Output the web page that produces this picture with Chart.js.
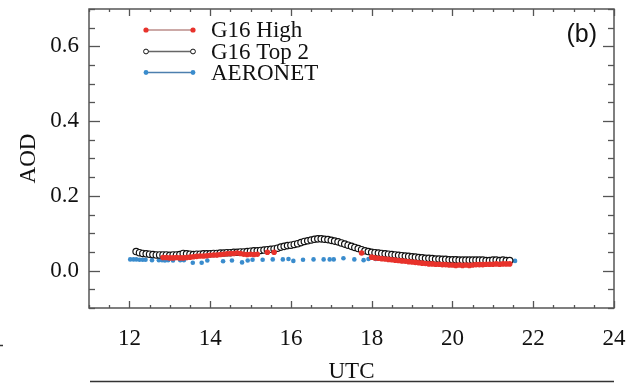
<!DOCTYPE html>
<html>
<head>
<meta charset="utf-8">
<title>AOD (b)</title>
<script src="https://cdn.jsdelivr.net/npm/chart.js@4.4.0/dist/chart.umd.min.js"></script>
<style>
  html, body { margin: 0; padding: 0; background: #fff; }
  #wrap { width: 636px; height: 388px; position: relative; }
</style>
</head>
<body>
<div id="wrap"><canvas id="aod"></canvas></div>
<script>
// GOES-16 retrievals, 5 min scans (UTC)
const g16Times = [
  "12:10","12:15","12:20","12:25","12:30","12:35","12:40","12:45","12:50","12:55",
  "13:00","13:05","13:10","13:15","13:20","13:25","13:30","13:35","13:40","13:45","13:50","13:55",
  "14:00","14:05","14:10","14:15","14:20","14:25","14:30","14:35","14:40","14:45","14:50","14:55",
  "15:00","15:05","15:10","15:15","15:20","15:25","15:30","15:35","15:40","15:45","15:50","15:55",
  "16:00","16:05","16:10","16:15","16:20","16:25","16:30","16:35","16:40","16:45","16:50","16:55",
  "17:00","17:05","17:10","17:15","17:20","17:25","17:30","17:35","17:40","17:45","17:50","17:55",
  "18:00","18:05","18:10","18:15","18:20","18:25","18:30","18:35","18:40","18:45","18:50","18:55",
  "19:00","19:05","19:10","19:15","19:20","19:25","19:30","19:35","19:40","19:45","19:50","19:55",
  "20:00","20:05","20:10","20:15","20:20","20:25","20:30","20:35","20:40","20:45","20:50","20:55",
  "21:00","21:05","21:10","21:15","21:20","21:25"
];
const g16High = [
  null,null,null,null,null,null,null,null,0.035,0.035,
  0.034,0.034,0.035,0.034,0.034,0.035,0.036,0.037,0.038,0.039,0.039,0.040,
  0.041,0.042,0.042,0.043,0.044,0.045,0.046,0.046,0.047,0.046,0.044,0.043,
  0.044,0.043,0.044,null,null,0.049,null,0.049,null,null,null,null,
  null,null,null,null,null,null,null,null,null,null,null,null,
  null,null,null,null,null,null,null,null,null,0.047,null,null,
  0.036,0.034,0.033,0.032,0.031,0.030,0.029,0.028,0.027,0.026,0.025,0.024,
  0.023,0.022,0.021,0.020,0.019,0.018,0.018,0.017,0.017,0.016,0.016,0.015,
  0.015,0.014,0.015,0.014,0.015,0.014,0.015,0.016,0.016,0.016,0.017,0.017,
  0.017,0.018,0.017,0.018,0.018,0.018
];
const g16Top2 = [
  0.051,0.048,0.046,0.045,0.044,0.043,0.042,0.042,0.042,0.042,
  0.041,0.042,0.042,0.043,0.046,0.045,0.044,0.043,0.044,0.044,0.045,0.045,
  0.045,0.046,0.046,0.047,0.047,0.048,0.048,0.049,0.049,0.050,0.050,0.051,
  0.052,0.053,0.053,0.054,0.055,0.056,0.057,0.058,0.060,0.063,0.065,0.067,
  0.068,0.070,0.072,0.075,0.078,0.080,0.082,0.084,0.085,0.085,0.084,0.083,
  0.081,0.079,0.077,0.074,0.071,0.068,0.065,0.062,0.059,0.056,0.053,0.051,
  0.049,0.048,0.047,0.046,0.045,0.044,0.043,0.042,0.041,0.040,0.039,0.038,
  0.037,0.036,0.035,0.034,0.033,0.033,0.032,0.031,0.031,0.030,0.030,0.029,
  0.029,0.029,0.028,0.028,0.028,0.028,0.028,0.028,0.028,0.028,0.027,0.027,
  0.028,0.028,0.027,0.028,0.027,0.027
];

// AERONET sun photometer (decimal hours UTC)
const aeronetTimes = [
  12.02,12.10,12.17,12.25,12.33,12.40,12.56,12.73,12.81,12.88,12.96,13.08,13.26,
  13.35,13.57,13.79,13.93,14.32,14.54,14.79,14.93,15.05,15.30,15.55,15.80,15.94,
  16.06,16.30,16.56,16.81,16.96,17.06,17.30,17.57,17.80,17.92,18.10,18.35,18.60,
  18.85,19.10,19.35,19.60,19.85,20.10,20.35,20.60,20.85,21.10,21.35,21.55
];
const aeronetAod = [
  0.030,0.030,0.030,0.029,0.029,0.029,0.028,0.028,0.028,0.027,0.028,0.027,0.028,
  0.028,0.021,0.021,0.027,0.025,0.027,0.022,0.027,0.029,0.029,0.030,0.030,0.031,
  0.026,0.029,0.030,0.030,0.030,0.030,0.033,0.030,0.028,0.031,0.031,0.031,0.030,
  0.030,0.030,0.029,0.029,0.031,0.029,0.028,0.028,0.028,0.027,0.027,0.026
];

const xTicks = [12, 14, 16, 18, 20, 22, 24];
const yTicks = [0.0, 0.2, 0.4, 0.6];

const SERIF = '"Liberation Serif", "Times New Roman", serif';
const INK = '#111';
const FRAME = '#555';

function hours(hhmm) {
  const [h, m] = hhmm.split(':').map(Number);
  return h + m / 60;
}
function pairs(times, vals) {
  return vals.map((v, i) => ({ x: typeof times[i] === 'string' ? hours(times[i]) : times[i], y: v }));
}

// box with inward ticks on all four sides, legend, panel letter
const framePlugin = {
  id: 'frame',
  afterDatasetsDraw(chart) {
    const { ctx, chartArea: a, scales: { x, y } } = chart;
    ctx.save();
    ctx.strokeStyle = FRAME;
    ctx.lineWidth = 1.3;

    const tick = (x1, y1, x2, y2) => {
      ctx.beginPath(); ctx.moveTo(x1, y1); ctx.lineTo(x2, y2); ctx.stroke();
    };
    for (let v = x.min; v <= x.max + 1e-9; v += 0.5) {
      const px = Math.round(x.getPixelForValue(v)) + 0.5;
      const len = Math.abs(v % 2) < 1e-9 ? 7 : 3;
      tick(px, a.bottom, px, a.bottom - len);
      tick(px, a.top, px, a.top + len);
    }
    for (let k = -2; k <= 14; k++) {
      const v = k * 0.05;
      const py = Math.round(y.getPixelForValue(v)) + 0.5;
      const len = k % 4 === 0 ? 11 : 6;
      tick(a.left, py, a.left + len, py);
      tick(a.right, py, a.right - len, py);
    }
    ctx.lineWidth = 1.5;
    ctx.strokeRect(a.left, a.top, a.right - a.left, a.bottom - a.top);

    // legend: short line with a marker at each end
    const rows = [30, 51.5, 72.5];
    chart.data.datasets.forEach((ds, i) => {
      const yy = rows[i];
      ctx.strokeStyle = ds.legendLine;
      ctx.lineWidth = 1.4;
      tick(146, yy, 193, yy);
      [146, 193].forEach(mx => {
        ctx.beginPath();
        ctx.arc(mx, yy, ds.legendRadius, 0, Math.PI * 2);
        ctx.fillStyle = ds.backgroundColor;
        ctx.fill();
        if (ds.borderWidth) {
          ctx.lineWidth = 1;
          ctx.strokeStyle = ds.borderColor;
          ctx.stroke();
        }
      });
      ctx.fillStyle = INK;
      ctx.font = '23px ' + SERIF;
      ctx.textBaseline = 'middle';
      ctx.textAlign = 'left';
      ctx.fillText(ds.label, 211, yy + 1);
    });

    ctx.font = '25px "Liberation Sans", Arial, sans-serif';
    ctx.textAlign = 'right';
    ctx.fillText('(b)', 597, 35);

    // rule under the axis title and a stub at the left edge
    ctx.strokeStyle = '#333';
    ctx.lineWidth = 1.5;
    tick(a.left + 1, 381.5, a.right, 381.5);
    tick(0, 345.5, 3, 345.5);
    ctx.restore();
  }
};

new Chart(document.getElementById('aod'), {
  type: 'scatter',
  data: {
    datasets: [
      {
        label: 'G16 High',
        data: pairs(g16Times, g16High),
        backgroundColor: '#e8322b',
        borderColor: '#e8322b',
        borderWidth: 0,
        pointRadius: 2.8,
        legendRadius: 2.6,
        legendLine: '#bb8c8a'
      },
      {
        label: 'G16 Top 2',
        data: pairs(g16Times, g16Top2),
        backgroundColor: '#ffffff',
        borderColor: '#111111',
        borderWidth: 1.2,
        pointRadius: 3.2,
        legendRadius: 2.4,
        legendLine: '#666666'
      },
      {
        label: 'AERONET',
        data: pairs(aeronetTimes, aeronetAod),
        backgroundColor: '#3a8ccd',
        borderColor: '#3a8ccd',
        borderWidth: 0,
        pointRadius: 2.3,
        legendRadius: 2.4,
        legendLine: '#4d7fae'
      }
    ]
  },
  options: {
    responsive: true,
    maintainAspectRatio: false,
    animation: false,
    devicePixelRatio: 1,
    layout: { padding: { top: 9, right: 22, left: 0, bottom: 0 } },
    plugins: { legend: { display: false }, tooltip: { enabled: false } },
    scales: {
      x: {
        type: 'linear',
        min: 11,
        max: 24,
        grid: { display: false },
        border: { display: false },
        afterBuildTicks: s => { s.ticks = xTicks.map(v => ({ value: v })); },
        afterFit: s => { s.height = 80; s.paddingLeft = 0; s.paddingRight = 0; },
        ticks: { color: INK, font: { family: SERIF, size: 23 }, padding: 9 },
        title: { display: true, text: 'UTC', color: INK, font: { family: SERIF, size: 23 }, padding: 2 }
      },
      y: {
        min: -0.1,
        max: 0.7,
        grid: { display: false },
        border: { display: false },
        afterBuildTicks: s => { s.ticks = yTicks.map(v => ({ value: v })); },
        afterFit: s => { s.width = 89; s.paddingTop = 0; s.paddingBottom = 0; },
        ticks: {
          color: INK,
          font: { family: SERIF, size: 23 },
          padding: 2,
          callback: v => v.toFixed(1)
        },
        title: { display: true, text: 'AOD', color: INK, font: { family: SERIF, size: 23 }, padding: 15 }
      }
    }
  },
  plugins: [framePlugin]
});
</script>
</body>
</html>
